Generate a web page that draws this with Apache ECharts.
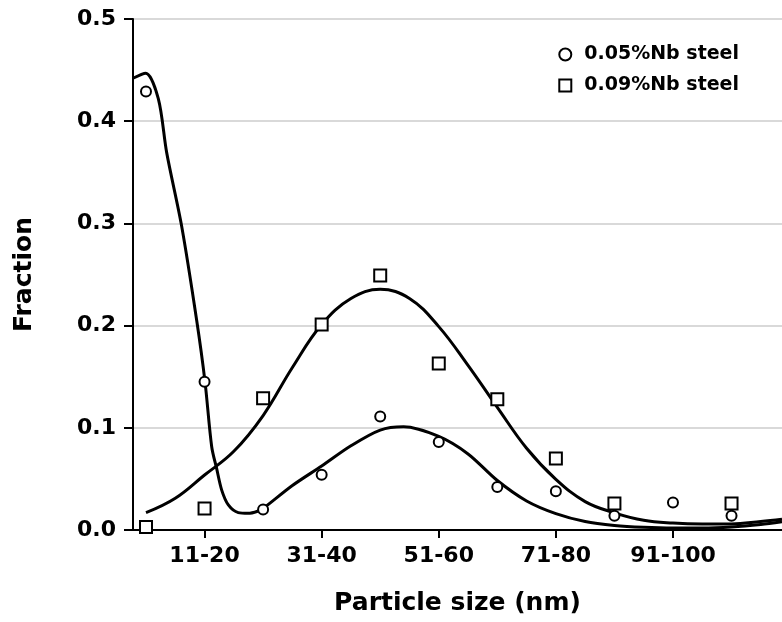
<!DOCTYPE html>
<html><head><meta charset="utf-8">
<script src="https://cdn.jsdelivr.net/npm/echarts@6/dist/echarts.min.js"></script>
<style>html,body{margin:0;padding:0;background:#fff}#c{width:782px;height:622px}</style>
</head><body><div id="c"></div>
<script>
// size classes (category positions 0..10 on the x axis)
const categories = ['1-10','11-20','21-30','31-40','41-50','51-60','61-70','71-80','81-90','91-100','101-110'];
const labeledPositions = [1, 3, 5, 7, 9];
// measured fractions
const nb005 = [0.429, 0.145, 0.020, 0.054, 0.111, 0.086, 0.042, 0.038, 0.014, 0.027, 0.014];
const nb009 = [0.003, 0.021, 0.129, 0.201, 0.249, 0.163, 0.128, 0.070, 0.026, null, 0.026];
// fitted curves (x = position on the size axis, y = fraction)
const fit005X = [-0.222, -0.005, 0.21, 0.354, 0.61, 0.866, 1.008, 1.122, 1.207, 1.293, 1.406, 1.576, 1.747, 1.918, 2.0, 2.5, 3.0, 3.5, 4.0, 4.4, 5.0, 5.5, 6.0, 6.5, 7.0, 7.5, 8.0, 8.5, 9.0, 9.5, 10.0, 10.5, 10.862];
const fit005Y = [0.442, 0.447, 0.422, 0.369, 0.297, 0.205, 0.145, 0.0815, 0.060, 0.039, 0.0245, 0.017, 0.0163, 0.0186, 0.021, 0.0435, 0.0626, 0.0824, 0.0978, 0.101, 0.0915, 0.0744, 0.0484, 0.0284, 0.016, 0.0083, 0.0045, 0.0027, 0.002, 0.002, 0.003, 0.0054, 0.008];
const fit009X = [0.0, 0.5, 1.0, 1.5, 2.0, 2.5, 3.0, 3.5, 4.0, 4.5, 5.0, 5.5, 6.0, 6.5, 7.0, 7.5, 8.0, 8.5, 9.0, 9.5, 10.0, 10.5, 10.862];
const fit009Y = [0.0169, 0.031, 0.0538, 0.077, 0.112, 0.159, 0.201, 0.2265, 0.2355, 0.2265, 0.199, 0.161, 0.120, 0.080, 0.0496, 0.0278, 0.0168, 0.0095, 0.0068, 0.0059, 0.0059, 0.0083, 0.0105];
const yMin = 0, yMax = 0.5, yStep = 0.1;
const xMin = -0.222, xMax = 10.862;

const FONT = 'DejaVu Sans';
const pairs = (xs, ys) => xs.map((x, i) => [x, ys[i]]);
const pts = vals => vals.map((v, i) => v == null ? null : [i, v]).filter(p => p);

const chart = echarts.init(document.getElementById('c'), null, {renderer: 'canvas'});
chart.setOption({
  animation: false,
  backgroundColor: '#fff',
  grid: {left: 133, right: 0, top: 19, bottom: 92, containLabel: false, outerBoundsMode: 'none'},
  legend: {
    orient: 'vertical', right: 38, top: 40, itemWidth: 12, itemHeight: 12, itemGap: 12,
    data: ['0.05%Nb steel', '0.09%Nb steel'],
    textStyle: {fontFamily: FONT, fontWeight: 'bold', fontSize: 19, color: '#000', padding: [0, 0, 0, 8]}
  },
  xAxis: {
    type: 'value', min: xMin, max: xMax,
    name: 'Particle size (nm)', nameLocation: 'middle', nameGap: 61,
    nameTextStyle: {fontFamily: FONT, fontWeight: 'bold', fontSize: 25, color: '#000'},
    axisLine: {show: true, onZero: false, lineStyle: {color: '#000', width: 2}},
    axisTick: {show: true, length: 8, lineStyle: {color: '#000', width: 2}, customValues: labeledPositions},
    axisLabel: {
      fontFamily: FONT, fontWeight: 'bold', fontSize: 22, color: '#000', margin: 15,
      customValues: labeledPositions,
      formatter: v => categories[Math.round(v)]
    },
    splitLine: {show: false}
  },
  yAxis: {
    type: 'value', min: yMin, max: yMax, interval: yStep,
    name: 'Fraction', nameLocation: 'middle', nameGap: 96,
    nameTextStyle: {fontFamily: FONT, fontWeight: 'bold', fontSize: 25, color: '#000'},
    axisLine: {show: true, onZero: false, lineStyle: {color: '#000', width: 2}},
    axisTick: {show: true, length: 9, lineStyle: {color: '#000', width: 2}},
    axisLabel: {fontFamily: FONT, fontWeight: 'bold', fontSize: 22, color: '#000', margin: 17,
      formatter: v => v.toFixed(1)},
    splitLine: {show: true, lineStyle: {color: '#d9d9d9', width: 2}}
  },
  series: [
    {type: 'line', name: 'fit 0.05', data: pairs(fit005X, fit005Y), smooth: 0.3, showSymbol: false,
      lineStyle: {color: '#000', width: 3}, z: 2, silent: true},
    {type: 'line', name: 'fit 0.09', data: pairs(fit009X, fit009Y), smooth: 0.4, showSymbol: false,
      lineStyle: {color: '#000', width: 3}, z: 2, silent: true},
    {type: 'scatter', name: '0.05%Nb steel', data: pts(nb005), symbol: 'circle', symbolSize: 10,
      itemStyle: {color: '#fff', borderColor: '#000', borderWidth: 2, opacity: 1}, z: 5},
    {type: 'scatter', name: '0.09%Nb steel', data: pts(nb009), symbol: 'rect', symbolSize: 12,
      itemStyle: {color: '#fff', borderColor: '#000', borderWidth: 2, opacity: 1}, z: 5}
  ]
});
</script>
</body></html>
